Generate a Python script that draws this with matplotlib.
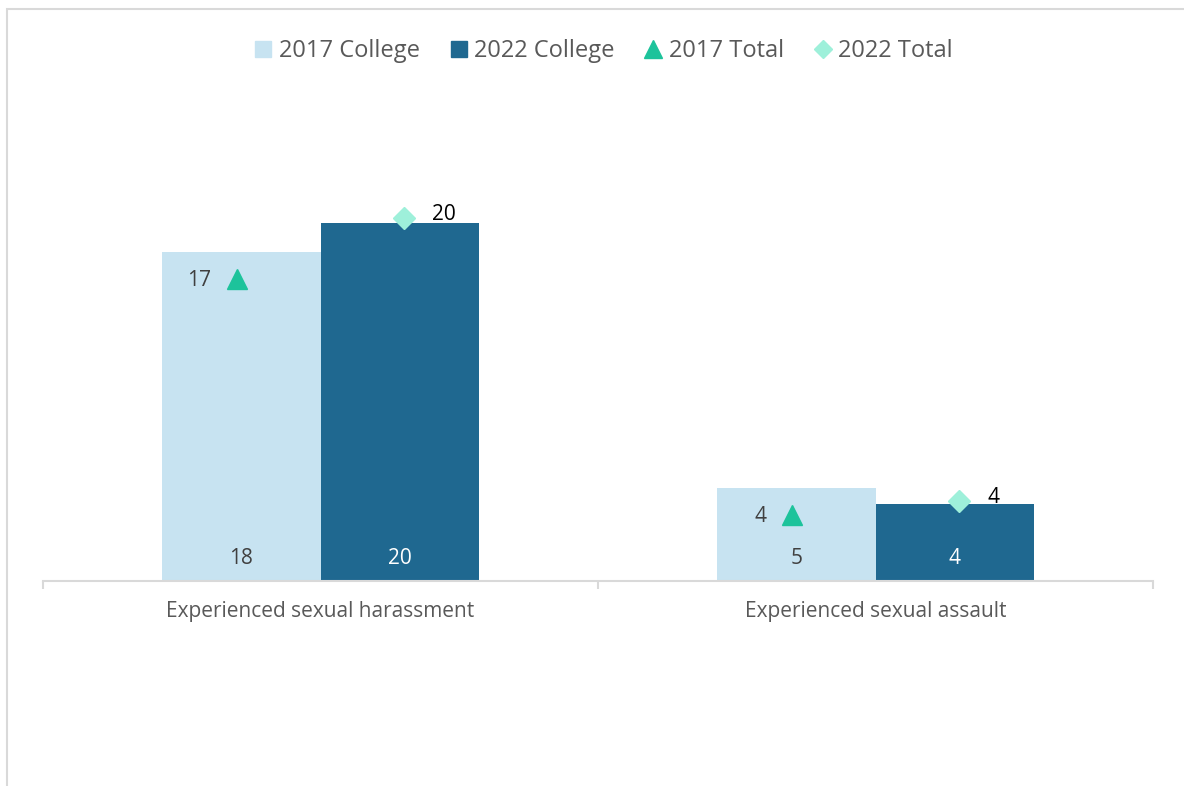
import matplotlib.pyplot as plt
from matplotlib.lines import Line2D
from matplotlib.patches import Rectangle
import numpy as np

plt.rcParams['font.family'] = ['Open Sans', 'DejaVu Sans']

categories = ["Experienced sexual harassment", "Experienced sexual assault"]
college_2017 = [18.1, 5.1]
college_2022 = [19.7, 4.2]
total_2017 = [16.6, 3.6]
total_2022 = [20.0, 4.4]

light_blue = '#C7E3F1'
dark_blue = '#1F6890'
green = '#1DC39B'
mint = '#9EF0DA'
grey_line = '#D9D9D9'
text_grey = '#595959'

fig = plt.figure(figsize=(11.84, 7.86), dpi=100)
ax = fig.add_axes([43 / 1184, 1 - 580.5 / 786, 1110 / 1184, 453.75 / 786])

x = np.arange(len(categories))
w = 0.2856

bars_a = ax.bar(x - w / 2, college_2017, w, color=light_blue, label="2017 College")
bars_b = ax.bar(x + w / 2, college_2022, w, color=dark_blue, label="2022 College")
ax.plot(x - 0.15, total_2017, linestyle='', marker='^', markersize=15, color=green, label="2017 Total")
ax.plot(x + 0.15, total_2022, linestyle='', marker='D', markersize=11, color=mint, label="2022 Total")

# data labels at the base of the bars
for i in range(len(categories)):
    ax.annotate(str(round(college_2017[i])), (x[i] - w / 2, 0), xytext=(0, 16), textcoords='offset points',
                ha='center', va='center', fontsize=15, color='#404040')
    ax.annotate(str(round(college_2022[i])), (x[i] + w / 2, 0), xytext=(0, 16), textcoords='offset points',
                ha='center', va='center', fontsize=15, color='white')
    ax.annotate(str(round(total_2017[i])), (x[i] - 0.15, total_2017[i]), xytext=(-18.5, -1),
                textcoords='offset points', ha='right', va='center', fontsize=15, color='#404040')
    ax.annotate(str(round(total_2022[i])), (x[i] + 0.15, total_2022[i]), xytext=(20.5, 2),
                textcoords='offset points', ha='left', va='center', fontsize=15, color='black')

ax.set_xlim(-0.5, len(categories) - 0.5)
ax.set_ylim(0, 25)
ax.set_yticks([])
for s in ['top', 'right', 'left']:
    ax.spines[s].set_visible(False)
ax.spines['bottom'].set_color(grey_line)
ax.spines['bottom'].set_linewidth(1.5)

ax.set_xticks(x)
ax.set_xticklabels(categories, fontsize=15, color=text_grey)
ax.tick_params(axis='x', which='major', length=0, pad=15)
ax.set_xticks(np.arange(-0.5, len(categories)), minor=True)
ax.tick_params(axis='x', which='minor', length=6, width=1.5, color=grey_line)

handles = [
    Line2D([], [], linestyle='', marker='s', markersize=11, color=light_blue),
    Line2D([], [], linestyle='', marker='s', markersize=11, color=dark_blue),
    Line2D([], [], linestyle='', marker='^', markersize=13, color=green),
    Line2D([], [], linestyle='', marker='D', markersize=9, color=mint),
]
fig.legend(handles, ["2017 College", "2022 College", "2017 Total", "2022 Total"], loc='center',
           bbox_to_anchor=(604 / 1184, 1 - 51 / 786), ncol=4, frameon=False, fontsize=17,
           handlelength=0.7, handletextpad=0.3, columnspacing=1.3, labelcolor=text_grey)

# chart border (only left and top edge visible in the frame)
fig.patches.append(Rectangle((7 / 1184, -0.05), 1.2, 1.05 - 9 / 786, transform=fig.transFigure,
                             fill=False, edgecolor=grey_line, linewidth=1.5))

plt.savefig('out.png', dpi=100)
